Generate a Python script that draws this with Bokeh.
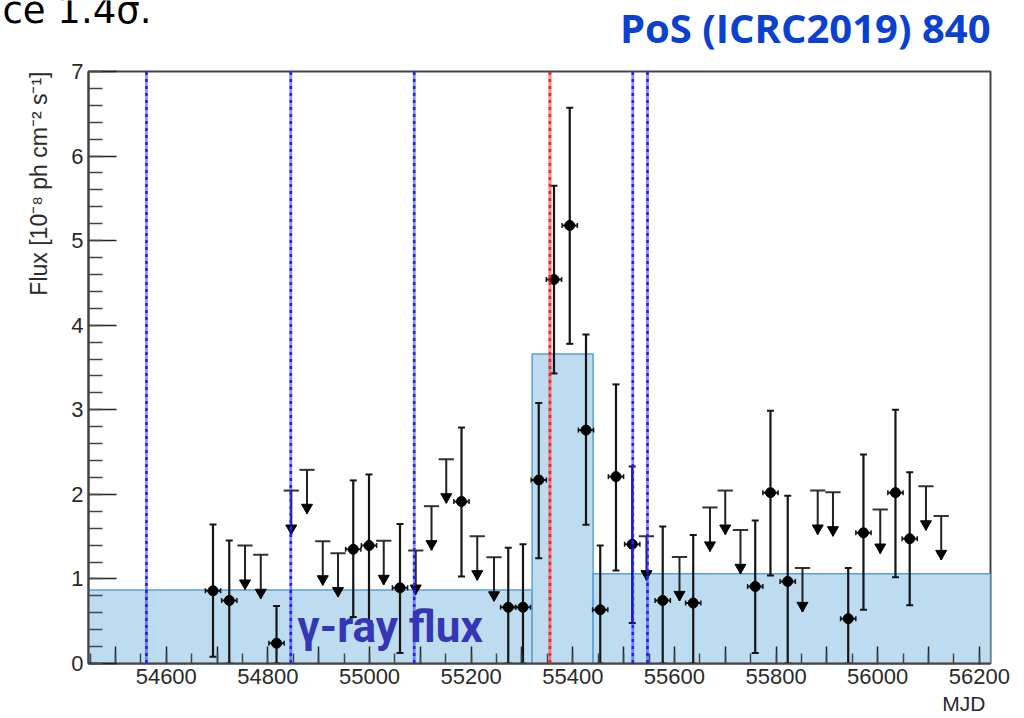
import math
from bokeh.plotting import figure
from bokeh.models import (Range1d, FixedTicker, SingleIntervalTicker, ColumnDataSource,
                          Span, Label, Title, PrintfTickFormatter)
from bokeh.embed import file_html
from bokeh.resources import INLINE

# ---- light-curve data (MJD, flux in 1e-8 ph cm^-2 s^-1) ----
det_mjd = [54692, 54724, 54817, 54968, 54999, 55060, 55181, 55273, 55302, 55333,
           55363, 55394, 55426, 55454, 55485, 55517, 55577, 55637, 55759, 55789,
           55823, 55942, 55972, 56035, 56063]
det_flux = [0.86, 0.745, 0.24, 1.35, 1.395, 0.895, 1.915, 0.665, 0.665, 2.17,
            4.54, 5.18, 2.76, 0.635, 2.21, 1.41, 0.745, 0.715, 0.91, 2.02,
            0.97, 0.53, 1.545, 2.02, 1.475]
det_lo = [0.08, 0.0, 0.0, 0.55, 0.5, 0.125, 1.03, 0.0, 0.0, 1.245,
          3.43, 3.78, 1.64, 0.0, 1.1, 0.48, 0.0, 0.0, 0.125, 1.04,
          0.0, 0.0, 0.635, 1.02, 0.69]
det_hi = [1.645, 1.455, 0.68, 2.165, 2.235, 1.65, 2.79, 1.37, 1.41, 3.08,
          5.65, 6.57, 3.89, 1.395, 3.3, 2.33, 1.62, 1.52, 1.69, 2.99,
          1.985, 1.13, 2.47, 3.0, 2.26]

ul_mjd = [54755, 54786, 54846, 54877, 54908, 54938, 55028, 55091, 55122, 55151,
          55212, 55245, 55545, 55610, 55670, 55700, 55730, 55852, 55882, 55912,
          56005, 56095, 56125]
ul_flux = [1.395, 1.285, 2.045, 2.29, 1.445, 1.305, 1.45, 1.335, 1.86, 2.415,
           1.505, 1.255, 1.505, 1.26, 1.845, 2.045, 1.58, 1.13, 2.045, 2.025,
           1.82, 2.095, 1.745]

# Bayesian-block flux levels
block_edges = [54447, 55320, 55440, 56222]
block_flux = [0.87, 3.66, 1.06]

# neutrino arrival times
nu_blue = [54561, 54845, 55088, 55518, 55547]
nu_red = [55355]

x_ticks = list(range(54500, 56201, 100))
x_minor = list(range(54450, 56221, 50))

BIN_HALF = 15      # half width of a time bin, days
ARROW = 0.52       # upper-limit arrow length, flux units
TIP_LIFT = 0.075   # marker centre above the arrow tip

W = 1024
HEAD_H = 62
X0, X1 = 54447, 56222

# ---- header strip with the slide texts (pixel coordinates) ----
head = figure(width=W, height=HEAD_H, x_range=Range1d(0, W), y_range=Range1d(HEAD_H, 0),
              x_axis_type=None, y_axis_type=None, output_backend="svg", toolbar_location=None,
              min_border=0, outline_line_color=None)
head.grid.visible = False
head.add_layout(Label(x=2, y=31, text="ce 1.4σ.", text_font="DejaVu Sans",
                      text_font_size="37px", text_color="black"))
head.add_layout(Label(x=990, y=54, text="PoS (ICRC2019) 840", text_font="Open Sans",
                      text_font_style="bold", text_font_size="40px", text_color="#0b40d0",
                      text_align="right"))

# ---- light curve ----
p = figure(width=W, height=718 - HEAD_H, x_range=Range1d(X0, X1), y_range=Range1d(0, 7),
           output_backend="svg", toolbar_location=None,
           min_border_left=88, min_border_right=34, min_border_top=71 - HEAD_H,
           min_border_bottom=55)
p.grid.visible = False
p.background_fill_color = "white"
p.border_fill_color = "white"
p.outline_line_color = "#444444"
p.outline_line_width = 2

# axes in ROOT style: ticks inside the frame
xa = p.xaxis[0]
xa.ticker = FixedTicker(ticks=x_ticks, minor_ticks=x_minor)
xa.formatter = PrintfTickFormatter(format="%d")
xa.major_label_overrides = {t: "" for t in x_ticks if t % 200}
xa.major_tick_in, xa.major_tick_out = 17, 0
xa.minor_tick_in, xa.minor_tick_out = 10, 0
xa.major_label_standoff = 5

ya = p.yaxis[0]
ya.ticker = SingleIntervalTicker(interval=1, num_minor_ticks=5)
ya.major_tick_in, ya.major_tick_out = 28, 0
ya.minor_tick_in, ya.minor_tick_out = 14, 0
ya.major_label_standoff = 5
# blank axis label: keeps a gap between the tick labels and the axis title
ya.axis_label = " "
ya.axis_label_text_font_size = "2px"
ya.axis_label_standoff = 7

for ax in (xa, ya):
    ax.axis_line_color = "#444444"
    ax.axis_line_width = 2
    ax.major_tick_line_color = "#222222"
    ax.minor_tick_line_color = "#444444"
    ax.major_tick_line_width = 1.5
    ax.minor_tick_line_width = 1.5
    ax.major_label_text_font = "Liberation Sans"
    ax.major_label_text_font_size = "22px"
    ax.major_label_text_color = "#2a2a2a"

# axis titles, aligned to the far end of each axis
p.add_layout(Title(text="Flux [10⁻⁸ ph cm⁻² s⁻¹]", align="right",
                   text_font="Liberation Sans", text_font_style="normal",
                   text_font_size="23px", text_color="#2a2a2a"), "left")
p.add_layout(Title(text="MJD", align="right", standoff=6, offset=5,
                   text_font="Liberation Sans", text_font_style="normal",
                   text_font_size="21px", text_color="#2a2a2a"), "below")

# block light curve
p.quad(left=block_edges[:-1], right=block_edges[1:], bottom=0, top=block_flux,
       fill_color="#bddcf0", line_color="#5b9fd8", line_width=1.5)

# detections
det_src = ColumnDataSource(dict(
    x=det_mjd, y=det_flux, lo=det_lo, hi=det_hi,
    xl=[m - BIN_HALF for m in det_mjd], xr=[m + BIN_HALF for m in det_mjd]))
p.segment(x0="x", y0="lo", x1="x", y1="hi", source=det_src, line_color="#151515", line_width=2.2)
p.segment(x0="xl", y0="y", x1="xr", y1="y", source=det_src, line_color="#151515", line_width=2)
p.scatter(x="x", y="hi", source=det_src, marker="dash", size=7, line_color="#151515", line_width=2)
p.scatter(x="x", y="lo", source=det_src, marker="dash", size=7, line_color="#151515", line_width=2)
p.scatter(x="xl", y="y", source=det_src, marker="dash", angle=math.pi / 2, size=5,
          line_color="#151515", line_width=1.5)
p.scatter(x="xr", y="y", source=det_src, marker="dash", angle=math.pi / 2, size=5,
          line_color="#151515", line_width=1.5)
p.scatter(x="x", y="y", source=det_src, marker="circle", size=10,
          fill_color="black", line_color="black")

# upper limits
ul_src = ColumnDataSource(dict(
    x=ul_mjd, y=ul_flux,
    xl=[m - BIN_HALF for m in ul_mjd], xr=[m + BIN_HALF for m in ul_mjd],
    tip=[f - ARROW for f in ul_flux], head=[f - ARROW + TIP_LIFT for f in ul_flux]))
p.segment(x0="xl", y0="y", x1="xr", y1="y", source=ul_src, line_color="#333333", line_width=2)
p.segment(x0="x", y0="y", x1="x", y1="tip", source=ul_src, line_color="#222222", line_width=2)
p.scatter(x="x", y="head", source=ul_src, marker="inverted_triangle", size=11,
          fill_color="black", line_color="black")

# neutrino times
for t in nu_blue:
    p.add_layout(Span(location=t, dimension="height", line_color="#2020ff",
                      line_width=2.8, line_dash="4 1 1 1"))
for t in nu_red:
    p.add_layout(Span(location=t, dimension="height", line_color="#ff2020",
                      line_width=3, line_dash="4 1 1 1"))

p.add_layout(Label(x=54858, y=0.12, text="γ-ray flux", text_font="Roboto",
                   text_font_style="bold", text_font_size="44px", text_color="#3535b5"))

open("out.html", "w").write(file_html([head, p], INLINE))
